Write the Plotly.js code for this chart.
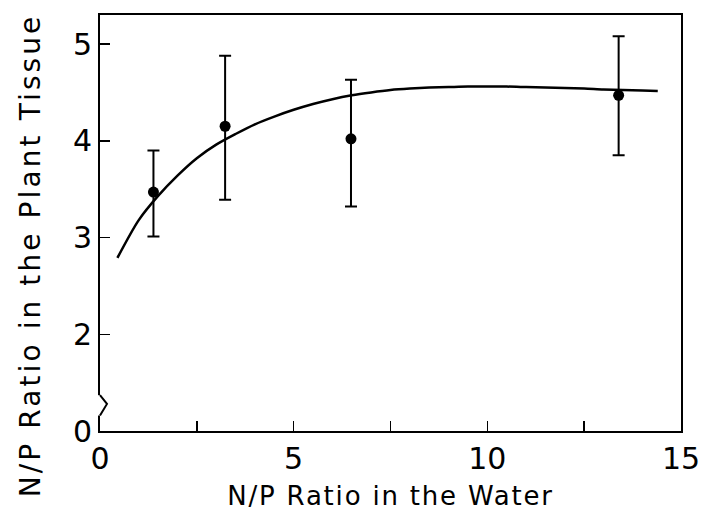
<!DOCTYPE html>
<html>
<head>
<meta charset="utf-8">
<script src="https://cdn.plot.ly/plotly-3.0.1.min.js"></script>
<style>
html,body{margin:0;padding:0;background:#fff;}
#chart{width:704px;height:518px;}
.xtitle{letter-spacing:1.8px;}
.annotation-text{letter-spacing:3.1px;}
</style>
</head>
<body>
<div id="chart"></div>
<script>
// Observed points (N/P ratio in water vs. N/P ratio in plant tissue)
const waterNP = [1.38, 3.23, 6.48, 13.39];
const tissueNP = [3.47, 4.15, 4.02, 4.47];
const errUpper = [3.90, 4.88, 4.63, 5.08];   // top of error bars
const errLower = [3.01, 3.39, 3.32, 3.85];   // bottom of error bars

// Fitted curve
const curveX = [0.45, 1.0, 1.5, 2.0, 2.5, 3.0, 3.5, 4.0, 4.5, 5.0, 5.5, 6.0, 6.5, 7.0, 7.5, 8.0, 8.5, 9.0, 9.5, 10.0, 10.5, 11.0, 11.5, 12.0, 12.5, 13.0, 13.5, 14.0, 14.4];
const curveY = [2.79, 3.18, 3.43, 3.64, 3.82, 3.96, 4.07, 4.17, 4.25, 4.32, 4.38, 4.43, 4.47, 4.50, 4.525, 4.54, 4.55, 4.555, 4.56, 4.56, 4.56, 4.555, 4.55, 4.545, 4.54, 4.53, 4.525, 4.52, 4.515];

// Axis ticks (y axis is broken: the bottom position is labelled 0)
const xTickVals = [0, 2.5, 5, 7.5, 10, 12.5, 15];
const xTickText = ["0", "", "5", "", "10", "", "15"];
const yTickVals = [1, 2, 3, 4, 5];
const yTickText = ["0", "2", "3", "4", "5"];

const xTitle = 'N/P Ratio in the Water';
const yTitle = 'N/P Ratio in the Plant Tissue';

const plus = tissueNP.map((v, i) => errUpper[i] - v);
const minus = tissueNP.map((v, i) => v - errLower[i]);

const traces = [
  {
    x: curveX, y: curveY, type: 'scatter', mode: 'lines',
    line: {color: '#000', width: 2.5, shape: 'spline', smoothing: 0.8},
    hoverinfo: 'skip', showlegend: false
  },
  {
    x: waterNP, y: tissueNP, type: 'scatter', mode: 'markers',
    marker: {color: '#000', size: 11},
    error_y: {type: 'data', symmetric: false, array: plus, arrayminus: minus,
              color: '#000', thickness: 2, width: 6},
    showlegend: false
  }
];

const fontFam = 'DejaVu Sans, Liberation Sans, sans-serif';

const layout = {
  width: 704, height: 518,
  margin: {l: 100, r: 23, t: 15, b: 87},
  paper_bgcolor: '#fff', plot_bgcolor: '#fff',
  showlegend: false,
  xaxis: {
    range: [0, 15], tickmode: 'array', tickvals: xTickVals, ticktext: xTickText,
    ticks: 'inside', ticklen: 10, tickwidth: 1.5, tickcolor: '#000',
    showline: true, linecolor: '#000', linewidth: 2, mirror: true,
    showgrid: false, zeroline: false,
    tickfont: {family: fontFam, size: 30, color: '#000'},
    title: {text: xTitle, font: {family: fontFam, size: 26, color: '#000'}, standoff: 12}
  },
  yaxis: {
    range: [1, 5.3], tickmode: 'array', tickvals: yTickVals, ticktext: yTickText,
    ticks: 'inside', ticklen: 10, tickwidth: 1.5, tickcolor: '#000',
    showline: true, linecolor: '#000', linewidth: 2, mirror: true,
    showgrid: false, zeroline: false,
    tickfont: {family: fontFam, size: 30, color: '#000'}
  },
  annotations: [
    {text: yTitle, xref: 'paper', yref: 'paper', x: -0.12, y: 0.423,
     xanchor: 'center', yanchor: 'middle', textangle: -90, showarrow: false,
     font: {family: fontFam, size: 28, color: '#000'}}
  ],
  shapes: [
    {type: 'line', xref: 'paper', yref: 'y', x0: 0, x1: 0, y0: 1.37, y1: 1.16,
     line: {color: '#fff', width: 5}, layer: 'above'},
    {type: 'path', xref: 'paper', yref: 'y', path: 'M 0 1.37 L 0.012 1.28 L 0 1.16',
     line: {color: '#000', width: 2}, layer: 'above'}
  ]
};

Plotly.newPlot('chart', traces, layout, {displayModeBar: false, staticPlot: true});
</script>
</body>
</html>
